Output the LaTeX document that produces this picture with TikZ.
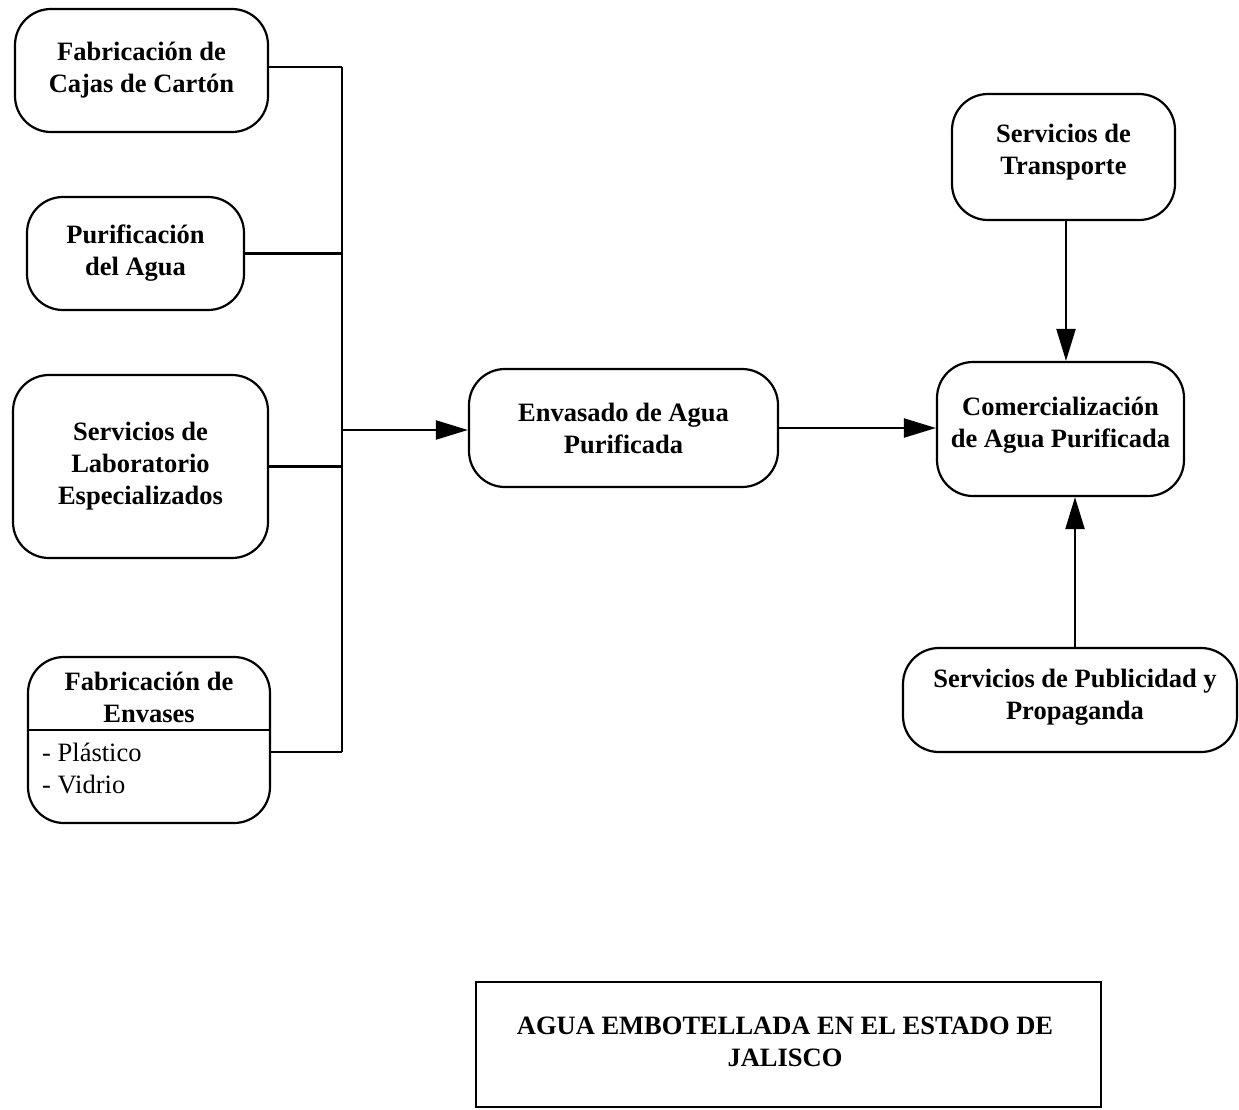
\documentclass[tikz,border=0pt]{standalone}
\usepackage{fontspec}
\setmainfont{Liberation Serif}
\usetikzlibrary{arrows.meta}
\begin{document}
\begin{tikzpicture}[x=1pt,y=-1pt,
  proc/.style={draw, line width=2.2pt, rounded corners=36pt, align=center,
    inner sep=0pt, font=\bfseries\fontsize{26.5}{32}\selectfont},
  plain/.style={inner sep=0pt, font=\fontsize{26.5}{32}\selectfont},
  link/.style={line width=2.2pt},
  arr/.style={link, -{Triangle[length=32pt,width=19pt]}}]
\useasboundingbox (0,0) rectangle (1239,1109);

% supplier boxes on the left
\node[proc, minimum width=253pt, minimum height=123pt] (caj) at (141.5,70.5)
  {Fabricación de\\Cajas de Cartón};
\node[proc, minimum width=217pt, minimum height=113pt] (pur) at (135.5,253.5)
  {Purificación\\del Agua};
\node[proc, minimum width=255pt, minimum height=183pt] (lab) at (140.5,466.5)
  {Servicios de\\Laboratorio\\Especializados};
\node[proc, minimum width=242pt, minimum height=166pt] (env) at (149,740) {};
\coordinate (div) at (149,730);
\draw[line width=2pt] (env.west |- div) -- (env.east |- div);
\node[proc, draw=none] (envh) at (149,697) {Fabricación de\\Envases};
\node[plain, anchor=west] (pla) at (42,752) {- Plástico};
\node[plain, anchor=west] (vid) at (42,784) {- Vidrio};

% central and right boxes
\node[proc, minimum width=309pt, minimum height=118pt] (enva) at (623.5,428)
  {Envasado de Agua\\Purificada};
\node[proc, minimum width=247pt, minimum height=134pt] (com) at (1060.5,429) {};
\node[proc, draw=none] (comt) at (1060.5,425) {Comercialización\\de Agua Purificada};
\node[proc, minimum width=223pt, minimum height=126pt] (tra) at (1063.5,157) {};
\node[proc, draw=none] (trat) at (1063.5,152) {Servicios de\\Transporte};
\node[proc, minimum width=334pt, minimum height=104pt] (pub) at (1070,700) {};
\node[proc, draw=none] (pubt) at (1075,697) {Servicios de Publicidad y\\Propaganda};

% title box
\node[draw, line width=2pt, minimum width=625pt, minimum height=125pt, inner sep=0pt] (tit) at (788.5,1044.5) {};
\node[proc, draw=none] (titt) at (785,1042) {AGUA EMBOTELLADA EN EL ESTADO DE\\JALISCO};

% collector bus
\coordinate (bus) at (342,430);
\coordinate (cajout) at (caj.east |- 0,67);
\coordinate (envout) at (env.east |- 0,752);
\draw[link] (cajout) -- (cajout -| bus);
\draw[link] (pur.east) -- (pur.east -| bus);
\draw[link] (lab.east) -- (lab.east -| bus);
\draw[link] (envout) -- (envout -| bus);
\draw[link] (cajout -| bus) -- (envout -| bus);

% flow arrows
\draw[arr] (bus) -- (bus -| enva.west);
\draw[arr] (enva.east) -- (enva.east -| com.west);
\coordinate (trin) at (1066,0);
\draw[arr] (trin |- tra.south) -- (trin |- com.north);
\coordinate (puin) at (1075,0);
\draw[arr] (puin |- pub.north) -- (puin |- com.south);
\end{tikzpicture}
\end{document}
